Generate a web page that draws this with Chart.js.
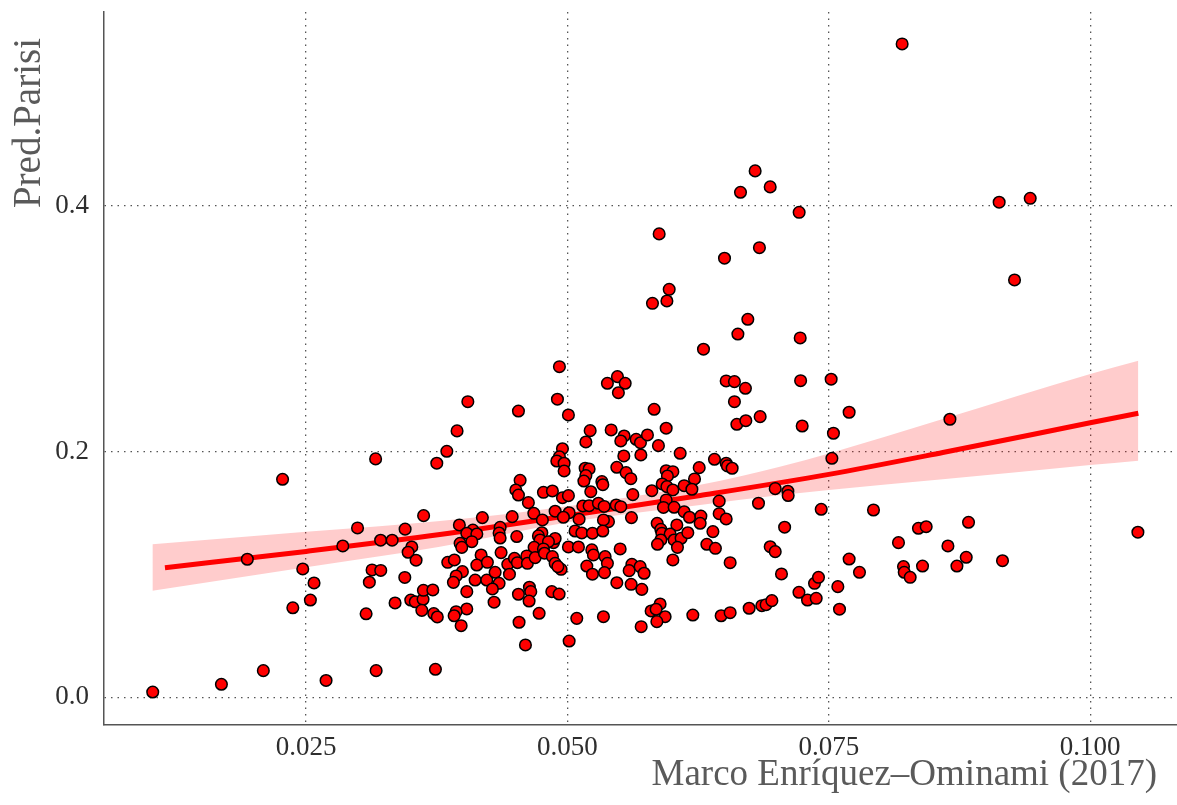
<!DOCTYPE html>
<html>
<head>
<meta charset="utf-8">
<script src="https://cdn.jsdelivr.net/npm/chart.js@4/dist/chart.umd.min.js"></script>
<style>
  html, body { margin: 0; padding: 0; background: #ffffff; }
  #wrap { width: 1177px; height: 805px; }
</style>
</head>
<body>
<div id="wrap"><canvas id="c" width="1177" height="805"></canvas></div>
<script>
// Commune-level values: Enríquez-Ominami share (x) vs predicted Parisi share (y)
const pointX = [
  0.01033,0.01690,0.02091,0.02691,0.03170,0.03737,0.02275,0.03165,0.03750,0.03624,
  0.02992,0.03447,0.02851,0.03213,0.03323,0.03511,0.03476,0.03552,0.01938,0.02468,
  0.03131,0.03214,0.02576,0.03105,0.03444,0.02541,0.02373,0.03074,0.03351,0.03501,
  0.03544,0.03619,0.03622,0.03712,0.03607,0.03721,0.03755,
  0.04923,0.04047,0.04904,0.04531,0.05009,0.03944,0.05217,0.05176,0.03846,0.04952,
  0.04923,0.04898,0.04968,0.04968,0.05169,0.05207,0.05176,0.05157,0.04547,0.04506,
  0.04531,0.04770,0.04856,0.04952,0.05009,0.05223,0.04626,0.05147,0.05207,0.05296,
  0.04678,0.04882,0.05016,0.04961,0.04760,0.05111,0.04186,0.04471,0.03966,0.04356,
  0.04095,
  0.04037,0.04133,0.04085,0.03973,0.03989,0.04346,0.04356,0.04515,0.04755,0.04722,
  0.04738,0.04866,0.04882,0.04818,0.05073,0.05137,0.05239,0.04681,0.04770,0.05009,
  0.05105,0.05233,0.03855,0.03918,0.04174,0.04133,0.04234,0.04365,0.04429,0.04493,
  0.04521,0.04611,0.04617,0.04691,0.04780,0.04856,0.04882,0.04939,0.04908,0.03995,
  0.03935,0.03909,0.04117,0.04228,0.04308,0.04346,0.04282,0.04445,0.05185,0.05248,
  0.04037,0.04636,0.04649,0.04531,0.04633,0.04850,0.04920,0.04298,0.04037,0.03935,
  0.03916,0.03983,0.04537,0.04729,0.05089,0.04598,0.05016,0.05239,
  0.06630,0.07226,0.06301,0.05382,0.05478,0.05552,0.05487,0.06518,0.06597,0.06702,
  0.07230,0.06597,0.05829,0.06620,0.06706,0.06843,0.07245,0.05418,0.05542,0.05510,
  0.05657,0.05698,0.05765,0.05944,0.05870,0.05539,0.05702,0.06078,0.06406,0.06518,
  0.06530,0.06575,0.06260,0.05472,0.05561,0.05606,0.05944,0.06008,0.05956,0.06215,
  0.05906,0.05951,0.06008,0.06116,0.06190,0.05807,0.05625,0.05329,0.05338,0.06987,
  0.07108,0.07111,0.05944,
  0.05466,0.05510,0.05351,0.05918,0.06020,0.06116,0.06167,0.06276,0.06269,0.06451,
  0.06451,0.06518,0.06827,0.05612,0.05392,0.05344,0.05338,0.05858,0.06046,0.05893,
  0.05903,0.05982,0.06020,0.06087,0.06151,0.05893,0.05861,0.06052,0.06391,0.06333,
  0.06415,0.07077,0.06939,0.06987,0.06556,0.07047,0.07214,0.05504,0.05360,0.05382,
  0.05354,0.05616,0.05590,0.05695,0.05733,0.06008,0.05472,0.05609,0.05711,0.05886,
  0.05800,0.05848,0.05934,0.05855,0.05705,0.05344,0.06199,0.06470,0.06556,0.06738,
  0.06859,0.06900,0.06955,
  0.06795,0.06655,0.06939,0.05877,0.06502,0.06836,0.05973,0.05951,0.05813,0.06725,
  0.07216,0.09129,0.09426,0.09276,0.07522,0.07694,0.07544,0.08658,0.08201,
  0.07529,0.07427,0.07927,0.08836,0.08357,0.08431,0.08166,0.08639,0.07694,0.07793,
  0.08214,0.08221,0.08278,0.08396,0.08725,0.08814,0.09161,0.10456,0.07296,0.07379,
  0.07363,0.07401,0.07586,0.07602
];
const pointY = [
  0.0043,0.0106,0.0217,0.0137,0.0217,0.0228,0.1775,0.1941,0.1906,0.1479,
  0.1379,0.1369,0.1232,0.1279,0.1279,0.1224,0.1181,0.1116,0.1124,0.1045,
  0.1037,0.1033,0.0931,0.0937,0.0976,0.0792,0.0729,0.0680,0.0768,0.0792,
  0.0778,0.0798,0.0871,0.0874,0.0708,0.0682,0.0654,
  0.2692,0.2407,0.2427,0.2331,0.2299,0.2169,0.2171,0.2079,0.2003,0.2024,
  0.1959,0.1924,0.1906,0.1843,0.1865,0.1859,0.1805,0.1761,0.1767,0.1688,
  0.1647,0.1669,0.1680,0.1625,0.1642,0.1674,0.1585,0.1558,0.1560,0.1580,
  0.1498,0.1515,0.1503,0.1466,0.1444,0.1450,0.1463,0.1471,0.1403,0.1384,
  0.1362,
  0.1336,0.1330,0.1267,0.1254,0.1221,0.1338,0.1297,0.1309,0.1340,0.1314,
  0.1281,0.1259,0.1293,0.1267,0.1354,0.1338,0.1336,0.1221,0.1208,0.1224,
  0.1224,0.1200,0.1099,0.1118,0.1159,0.1077,0.1099,0.1178,0.1083,0.1132,
  0.1096,0.1151,0.1091,0.1137,0.1173,0.1145,0.1091,0.1042,0.1064,0.1023,
  0.0988,0.0936,0.0955,0.0955,0.1018,0.0928,0.0882,0.1002,0.1069,0.1159,
  0.0860,0.0896,0.0860,0.0839,0.0784,0.0860,0.0841,0.0774,0.0719,0.0697,
  0.0664,0.0583,0.0611,0.0684,0.0643,0.0426,0.0458,0.1002,
  0.2958,0.2926,0.2834,0.2557,0.2611,0.2557,0.2480,0.2576,0.2570,0.2516,
  0.2578,0.2407,0.2345,0.2223,0.2252,0.2285,0.2209,0.2177,0.2128,0.2087,
  0.2101,0.2073,0.2136,0.2191,0.2049,0.1965,0.1973,0.1987,0.1938,0.1906,
  0.1884,0.1865,0.1870,0.1873,0.1829,0.1780,0.1845,0.1837,0.1802,0.1778,
  0.1737,0.1715,0.1688,0.1723,0.1694,0.1682,0.1650,0.1756,0.1731,0.1699,
  0.1678,0.1643,0.1607,
  0.1566,0.1552,0.1554,0.1546,0.1547,0.1511,0.1466,0.1476,0.1417,0.1597,
  0.1495,0.1452,0.1580,0.1463,0.1430,0.1444,0.1354,0.1417,0.1403,0.1368,
  0.1336,0.1330,0.1281,0.1295,0.1340,0.1281,0.1246,0.1221,0.1349,0.1246,
  0.1213,0.1385,0.1226,0.1186,0.1096,0.1004,0.0855,0.1208,0.1145,0.1091,
  0.1015,0.1083,0.1031,0.1064,0.1010,0.1118,0.0933,0.0920,0.0879,0.0760,
  0.0703,0.0717,0.0656,0.0616,0.0575,0.0656,0.0670,0.0664,0.0689,0.0725,
  0.0746,0.0754,0.0787,
  0.4286,0.4112,0.4156,0.3773,0.3575,0.3661,0.3322,0.3227,0.3208,0.3078,
  0.3949,0.4031,0.4063,0.3398,0.2590,0.2321,0.2150,0.2264,0.5320,
  0.1946,0.1531,0.1525,0.1425,0.1376,0.1389,0.1259,0.1232,0.1126,0.1018,
  0.1064,0.1018,0.0977,0.1069,0.1069,0.1140,0.1112,0.1344,0.0792,0.0806,
  0.0928,0.0977,0.0901,0.0717
];

// Fitted trend and its confidence band
const fitX = [0.0115, 0.0250, 0.0378, 0.0502, 0.0627, 0.0750, 0.0859, 0.1000, 0.1046];
const fitY = [0.1055, 0.1188, 0.1325, 0.1480, 0.1643, 0.1815, 0.1993, 0.2235, 0.2313];
const bandX    = [0.0103, 0.0250, 0.0378, 0.0502, 0.0627, 0.0704, 0.0750, 0.0859, 0.1000, 0.1046];
const bandHigh = [0.1246, 0.1347, 0.1436, 0.1558, 0.1730, 0.1880, 0.1985, 0.2265, 0.2633, 0.2741];
const bandLow  = [0.0868, 0.1059, 0.1226, 0.1427, 0.1566, 0.1647, 0.1688, 0.1775, 0.1892, 0.1927];

// Axes
const xTicks = [0.025, 0.050, 0.075, 0.100];
const yTicks = [0.0, 0.2, 0.4];
const xTitle = 'Marco Enríquez–Ominami (2017)';
const yTitle = 'Pred.Parisi';

const serif = '"Liberation Serif", "Times New Roman", serif';
const tickColor = '#2e2e2e';
const titleColor = '#5a5a5a';
const gridColor = '#555555';

const pairs = (xs, ys) => xs.map((x, i) => ({ x: x, y: ys[i] }));

// Keep the plot panel flush with the canvas edges: no extra label padding
const noPadding = s => { s.paddingTop = 0; s.paddingBottom = 0; s.paddingLeft = 0; s.paddingRight = 0; };

const axisTitles = {
  id: 'axisTitles',
  afterDraw(chart) {
    const ctx = chart.ctx;
    const area = chart.chartArea;
    ctx.save();
    ctx.fillStyle = titleColor;
    ctx.textAlign = 'right';
    ctx.textBaseline = 'alphabetic';
    ctx.font = '37px ' + serif;
    ctx.fillText(xTitle, area.right - 20, area.bottom + 60);
    ctx.font = '39px ' + serif;
    ctx.translate(40, area.top + 26);
    ctx.rotate(-Math.PI / 2);
    ctx.fillText(yTitle, 0, 0);
    ctx.restore();
  }
};

new Chart(document.getElementById('c'), {
  type: 'scatter',
  data: {
    datasets: [
      {
        type: 'line',
        data: pairs(bandX, bandHigh),
        borderWidth: 0,
        borderColor: 'rgba(0,0,0,0)',
        pointRadius: 0,
        fill: false,
        cubicInterpolationMode: 'monotone',
        order: 3
      },
      {
        type: 'line',
        data: pairs(bandX, bandLow),
        borderWidth: 0,
        borderColor: 'rgba(0,0,0,0)',
        backgroundColor: 'rgba(255,0,0,0.2)',
        pointRadius: 0,
        fill: '-1',
        cubicInterpolationMode: 'monotone',
        order: 2
      },
      {
        type: 'line',
        data: pairs(fitX, fitY),
        borderColor: '#ff0000',
        borderWidth: 5,
        borderCapStyle: 'butt',
        pointRadius: 0,
        fill: false,
        cubicInterpolationMode: 'monotone',
        order: 1
      },
      {
        data: pairs(pointX, pointY),
        backgroundColor: '#ff0000',
        borderColor: '#000000',
        borderWidth: 1.5,
        pointRadius: 5.8,
        pointHoverRadius: 5.8,
        order: 0
      }
    ]
  },
  options: {
    responsive: false,
    animation: false,
    devicePixelRatio: 1,
    layout: { autoPadding: false, padding: { top: 12, right: 0, left: 0, bottom: 0 } },
    plugins: { legend: { display: false }, tooltip: { enabled: false } },
    scales: {
      x: {
        type: 'linear',
        min: 0.00567,
        max: 0.1083,
        afterBuildTicks: a => { a.ticks = xTicks.map(v => ({ value: v })); },
        afterFit: s => { s.height = 80; noPadding(s); },
        grid: { color: gridColor, lineWidth: 1.3, drawTicks: false, tickLength: 0 },
        border: { display: true, color: '#555555', width: 1.5, dash: [1.5, 5] },
        ticks: {
          padding: 7, color: tickColor, autoSkip: false, maxRotation: 0,
          font: { family: serif, size: 27 },
          callback: v => Number(v).toFixed(3)
        }
      },
      y: {
        type: 'linear',
        min: -0.02256,
        max: 0.558,
        afterBuildTicks: a => { a.ticks = yTicks.map(v => ({ value: v })); },
        afterFit: s => { s.width = 104; noPadding(s); },
        grid: { color: gridColor, lineWidth: 1.3, drawTicks: false, tickLength: 0 },
        border: { display: true, color: '#555555', width: 1.5, dash: [1.5, 5] },
        ticks: {
          padding: 15, color: tickColor,
          font: { family: serif, size: 27 },
          callback: v => Number(v).toFixed(1)
        }
      }
    }
  },
  plugins: [axisTitles]
});
</script>
</body>
</html>
